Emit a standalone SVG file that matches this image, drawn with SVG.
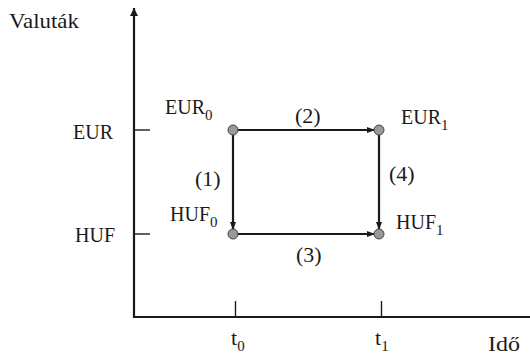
<svg xmlns="http://www.w3.org/2000/svg" width="530" height="357" viewBox="0 0 530 357">
<style>
text{font-family:"Liberation Serif","Times New Roman",serif;font-size:22px;fill:#1a1a1a}
.lbl{font-size:20px}
.sub{font-size:15px}
.ax{stroke:#1a1a1a;stroke-width:2.2;fill:none}
.tk{stroke:#1a1a1a;stroke-width:1.4;fill:none}
.edge{stroke:#1a1a1a;stroke-width:2.2;fill:none}
.node{fill:#999;stroke:#444;stroke-width:1}
</style>
<defs>
<marker id="ah" markerWidth="8" markerHeight="6" refX="7" refY="3" orient="auto" markerUnits="userSpaceOnUse">
<path d="M0,0 L8,3 L0,6 Z" fill="#1a1a1a"/>
</marker>
<marker id="axh" markerWidth="8" markerHeight="10" refX="8" refY="5" orient="auto" markerUnits="userSpaceOnUse">
<path d="M0,1 L8,5 L0,9 Z" fill="#1a1a1a"/>
</marker>
</defs>
<g id="axes">
<line class="ax" x1="134" y1="318" x2="134" y2="8" marker-end="url(#axh)"/>
<line class="ax" x1="133" y1="317" x2="530" y2="317"/>
<line class="tk" x1="134" y1="130" x2="150" y2="130"/>
<line class="tk" x1="134" y1="234" x2="150" y2="234"/>
<line class="tk" x1="235.5" y1="301" x2="235.5" y2="317"/>
<line class="tk" x1="381.5" y1="301" x2="381.5" y2="317"/>
<text x="9" y="28" font-size="23" textLength="70" lengthAdjust="spacingAndGlyphs">Valuták</text>
<text class="lbl" x="73" y="139">EUR</text>
<text class="lbl" x="75" y="242">HUF</text>
<text x="231" y="345">t<tspan class="sub" dy="6">0</tspan></text>
<text x="375" y="345">t<tspan class="sub" dy="6">1</tspan></text>
<text x="488" y="351" textLength="32" lengthAdjust="spacingAndGlyphs">Idő</text>
</g>
<g id="connectors">
<line class="edge" x1="238" y1="130" x2="374" y2="130" marker-end="url(#ah)"/>
<line class="edge" x1="233" y1="135" x2="233" y2="229" marker-end="url(#ah)"/>
<line class="edge" x1="238" y1="234" x2="374" y2="234" marker-end="url(#ah)"/>
<line class="edge" x1="379" y1="135" x2="379" y2="229" marker-end="url(#ah)"/>
<text x="295" y="123">(2)</text>
<text x="195" y="186">(1)</text>
<text x="389" y="181">(4)</text>
<text x="296" y="262">(3)</text>
</g>
<g id="EUR0">
<circle class="node" cx="233" cy="130" r="5"/>
<text class="lbl" x="165" y="114">EUR<tspan class="sub" dy="6">0</tspan></text>
</g>
<g id="EUR1">
<circle class="node" cx="379" cy="130" r="5"/>
<text class="lbl" x="401" y="124">EUR<tspan class="sub" dy="6">1</tspan></text>
</g>
<g id="HUF0">
<circle class="node" cx="233" cy="234" r="5"/>
<text class="lbl" x="170" y="221">HUF<tspan class="sub" dy="6">0</tspan></text>
</g>
<g id="HUF1">
<circle class="node" cx="379" cy="234" r="5"/>
<text class="lbl" x="396" y="229">HUF<tspan class="sub" dy="6">1</tspan></text>
</g>
</svg>
